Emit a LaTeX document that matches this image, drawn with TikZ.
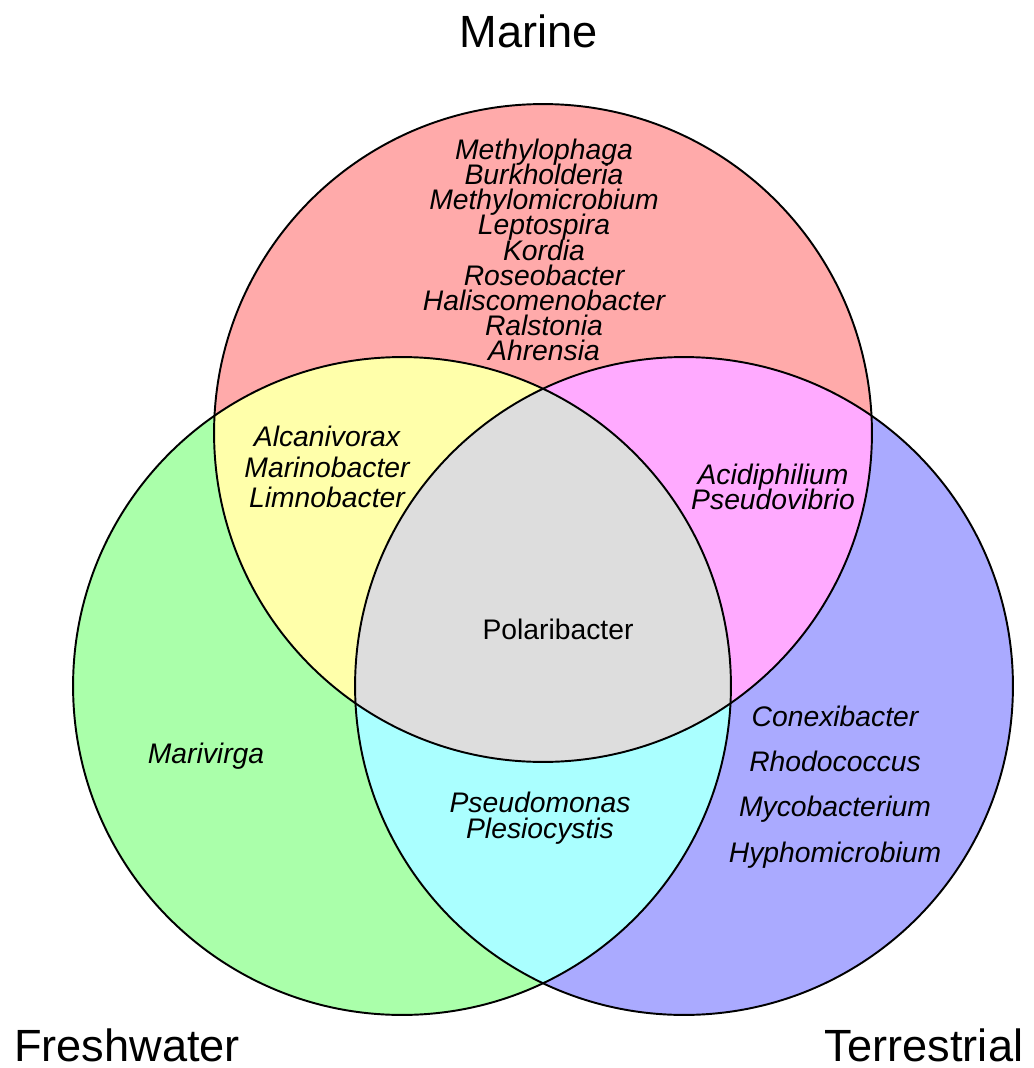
\documentclass[tikz,border=0pt]{standalone}
\usepackage{fontspec}
\setmainfont{Liberation Sans}
\usetikzlibrary{positioning}
\definecolor{marinered}{RGB}{255,170,170}
\definecolor{freshgreen}{RGB}{170,255,170}
\definecolor{terrablue}{RGB}{170,170,255}
\definecolor{mfyellow}{RGB}{255,255,170}
\definecolor{mtpink}{RGB}{255,170,255}
\definecolor{ftcyan}{RGB}{170,255,255}
\definecolor{allgray}{RGB}{221,221,221}
\setlength{\lineskiplimit}{-20pt}

\begin{document}
\begin{tikzpicture}[
    x=0.02cm, y=-0.02cm,
    set/.style={draw, line width=1.1pt},
    genus/.style={font=\fontsize{16.1}{14.3}\selectfont\itshape, align=center, inner sep=0pt},
    setlabel/.style={font=\fontsize{25.7}{30}\selectfont, inner sep=0pt}
]
\useasboundingbox (0,0) rectangle (1034,1068);
\def\rad{6.58cm}

% === SET CENTRES ===
\coordinate (marine) at (543,433);
\coordinate (fresh) at (402,686);
\coordinate (terra) at (684,686);

% === REGION FILLS ===
\fill[marinered] (marine) circle[radius=\rad];
\fill[freshgreen] (fresh) circle[radius=\rad];
\fill[terrablue] (terra) circle[radius=\rad];
\begin{scope}
    \clip (fresh) circle[radius=\rad];
    \fill[ftcyan] (terra) circle[radius=\rad];
\end{scope}
\begin{scope}
    \clip (marine) circle[radius=\rad];
    \fill[mfyellow] (fresh) circle[radius=\rad];
    \fill[mtpink] (terra) circle[radius=\rad];
    \clip (fresh) circle[radius=\rad];
    \fill[allgray] (terra) circle[radius=\rad];
\end{scope}

% === OUTLINES ===
\draw[set] (marine) circle[radius=\rad];
\draw[set] (fresh) circle[radius=\rad];
\draw[set] (terra) circle[radius=\rad];

% === SET LABELS ===
\node[setlabel] (marine_lbl) at (529,31) {Marine};
\node[setlabel] (fresh_lbl) at (127,1045) {Freshwater};
\node[setlabel] (terra_lbl) at (924,1045) {Terrestrial};

% === GENERA ===
\node[genus] (only_marine) at (544,250) {Methylophaga \\ Burkholderia \\ Methylomicrobium \\ Leptospira \\ Kordia \\ Roseobacter \\ Haliscomenobacter \\ Ralstonia \\ Ahrensia};
\node[genus, font=\fontsize{16.1}{17.4}\selectfont\itshape] (marine_fresh) at (327,467) {Alcanivorax \\ Marinobacter \\ Limnobacter};
\node[genus] (marine_terra) at (773,487) {Acidiphilium \\ Pseudovibrio};
\node[genus, font=\fontsize{16.1}{14.3}\selectfont] (all_three) at (558,629) {Polaribacter};
\node[genus] (only_fresh) at (206,756) {Marivirga};
\node[genus, font=\fontsize{16.1}{14.8}\selectfont\itshape] (fresh_terra) at (540,818) {Pseudomonas \\ Plesiocystis};
\node[genus, font=\fontsize{16.1}{25.8}\selectfont\itshape] (only_terra) at (835,787) {Conexibacter \\ Rhodococcus \\ Mycobacterium \\ Hyphomicrobium};

\end{tikzpicture}
\end{document}
